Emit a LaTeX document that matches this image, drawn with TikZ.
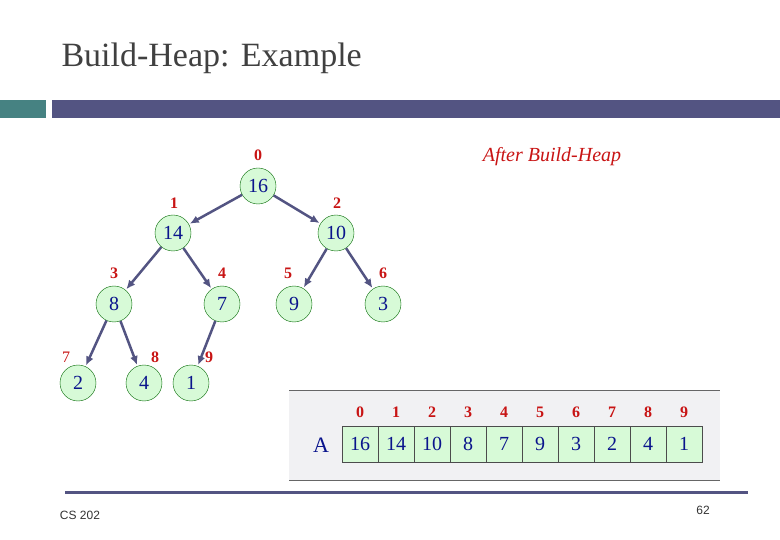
\documentclass[tikz,border=0pt]{standalone}
\usepackage{fontspec}
\setmainfont{Liberation Serif}
\setsansfont{Liberation Sans}
\usetikzlibrary{arrows.meta}
\definecolor{barblue}{RGB}{83,84,130}
\definecolor{barteal}{RGB}{70,130,130}
\definecolor{keyred}{RGB}{200,20,20}
\definecolor{keyblue}{RGB}{10,20,140}
\definecolor{nodegreen}{RGB}{215,250,215}
\definecolor{panelgrey}{RGB}{241,241,243}

\begin{document}
\begin{tikzpicture}[x=1pt, y=-1pt,
    key/.style = {draw=black!60!green, circle, fill=nodegreen, minimum size=36pt, inner sep=0pt,
                  text=keyblue, font=\fontsize{20}{20}\selectfont},
    idx/.style = {text=keyred, font=\fontsize{16}{16}\selectfont\bfseries},
    cell/.style = {draw=black!70, fill=nodegreen, minimum width=36pt, minimum height=36pt,
                   inner sep=0pt, text=keyblue, font=\fontsize{20}{20}\selectfont}]
    \useasboundingbox (0,0) rectangle (780,540);
    \node[anchor=west, font=\fontsize{34}{34}\selectfont, text=black!75] (title) at (58,58) {Build-Heap: Example};
    \fill[barteal] (0,100) rectangle (46,118);
    \fill[barblue] (52,100) rectangle (780,118);

    \node[key] (n0) at (258,186) {16};
    \node[key] (n1) at (173,233) {14};
    \node[key] (n2) at (336,233) {10};
    \node[key] (n3) at (114,304) {8};
    \node[key] (n4) at (222,304) {7};
    \node[key] (n5) at (294,304) {9};
    \node[key] (n6) at (383,304) {3};
    \node[key] (n7) at (78,383) {2};
    \node[key] (n8) at (144,383) {4};
    \node[key] (n9) at (191,383) {1};

    \node[idx] (i0) at (258,155) {0};
    \node[idx] (i1) at (174,203) {1};
    \node[idx] (i2) at (337,203) {2};
    \node[idx] (i3) at (114,273) {3};
    \node[idx] (i4) at (222,273) {4};
    \node[idx] (i5) at (288,273) {5};
    \node[idx] (i6) at (383,273) {6};
    \node[idx, font=\fontsize{16}{16}\selectfont] (i7) at (66,357) {7};
    \node[idx] (i8) at (155,357) {8};
    \node[idx] (i9) at (209,357) {9};

    \node[text=keyred, font=\fontsize{20}{20}\selectfont\itshape] (after) at (552,157) {After Build-Heap};

    \foreach \a/\b in {n0/n1, n0/n2, n1/n3, n1/n4, n2/n5, n2/n6, n3/n7, n3/n8, n4/n9}
        \draw[-{Latex[length=9pt, width=8pt]}, barblue, line width=2.5pt, shorten >=1pt] (\a) -- (\b);

    \fill[panelgrey] (289,390) rectangle (720,480);
    \draw[black!60] (289,390) -- (720,390);
    \draw[black!60] (289,480) -- (720,480);
    \node[text=keyblue, font=\fontsize{22}{22}\selectfont] (arr) at (321,445) {A};
    \foreach \v [count=\i from 0] in {16,14,10,8,7,9,3,2,4,1} {
        \node[cell] (c\i) at (360+\i*36,444) {\v};
        \node[idx] (k\i) at (360+\i*36,412) {\i};
    }

    \fill[barblue] (65,491) rectangle (748,494);
    \node[font=\sffamily\fontsize{12}{12}\selectfont, text=black!80] (course) at (80,515) {CS 202};
    \node[font=\sffamily\fontsize{12}{12}\selectfont, text=black!80] (page) at (703,510) {62};
\end{tikzpicture}
\end{document}
